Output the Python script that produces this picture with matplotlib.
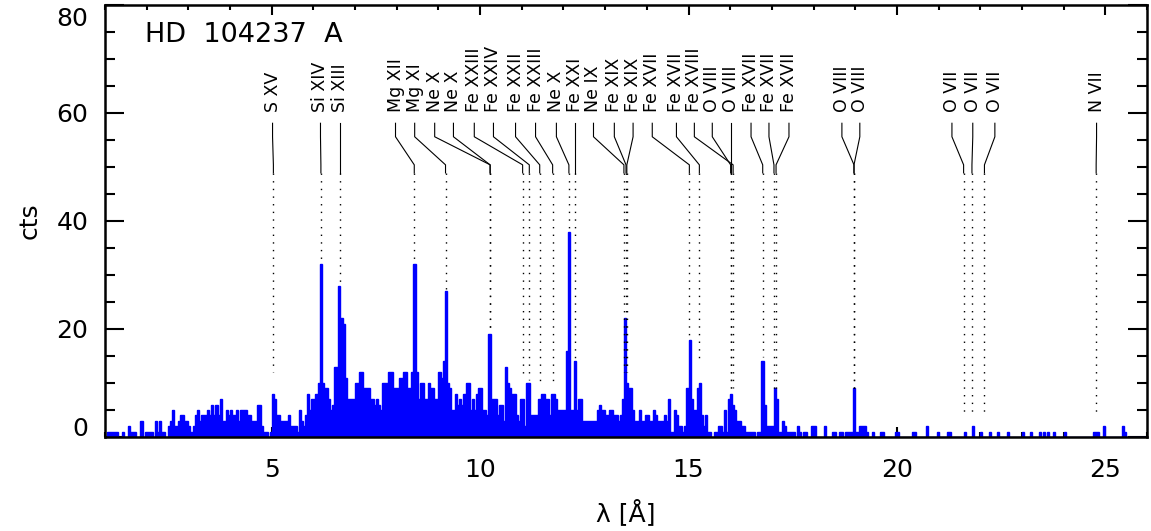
import numpy as np
import matplotlib
matplotlib.use('Agg')
import matplotlib.pyplot as plt
import matplotlib.transforms as mtransforms
from matplotlib.ticker import MultipleLocator

# spectrum: counts in 0.05 A bins starting at 1.0 A (one row = 1 A)
wave_start = 1.0
bin_width = 0.05
counts = [
    0, 1, 1, 1, 1, 1, 0, 0, 1, 0, 0, 2, 1, 1, 1, 0, 0, 3, 0, 1,            # 1-2
    1, 1, 1, 0, 3, 1, 3, 1, 1, 0, 2, 3, 5, 2, 2, 3, 4, 4, 3, 3,            # 2-3
    2, 1, 2, 4, 5, 3, 4, 4, 4, 5, 4, 6, 4, 6, 4, 7, 3, 3, 5, 4,            # 3-4
    5, 4, 4, 5, 3, 5, 5, 5, 4, 4, 3, 3, 3, 6, 6, 2, 1, 1, 0, 1,            # 4-5
    8, 7, 4, 4, 3, 3, 3, 3, 4, 2, 2, 2, 1, 5, 3, 2, 4, 8, 5, 7,            # 5-6
    7, 8, 10, 32, 10, 9, 9, 7, 5, 6, 13, 13, 28, 22, 21, 11, 7, 7, 7, 7,   # 6-7
    10, 10, 12, 12, 9, 9, 9, 7, 7, 6, 7, 6, 5, 10, 10, 10, 12, 12, 9, 9,   # 7-8
    9, 11, 11, 12, 12, 9, 9, 12, 32, 12, 7, 10, 10, 7, 7, 10, 9, 9, 7, 7,  # 8-9
    12, 11, 14, 27, 10, 9, 5, 5, 8, 6, 7, 6, 8, 10, 10, 5, 7, 5, 8, 9,     # 9-10
    9, 5, 5, 4, 19, 7, 7, 7, 4, 6, 6, 3, 13, 10, 9, 8, 8, 4, 3, 7,         # 10-11
    7, 2, 10, 10, 4, 4, 4, 4, 7, 8, 8, 7, 7, 4, 8, 8, 7, 5, 5, 5,          # 11-12
    5, 16, 38, 5, 5, 14, 5, 7, 7, 3, 3, 3, 3, 3, 3, 3, 5, 6, 5, 5,         # 12-13
    4, 4, 5, 5, 4, 4, 3, 4, 7, 22, 10, 9, 9, 5, 3, 3, 5, 3, 3, 4,          # 13-14
    4, 3, 3, 5, 4, 3, 3, 3, 4, 3, 7, 1, 1, 5, 4, 2, 2, 1, 2, 9,            # 14-15
    18, 7, 5, 5, 9, 10, 4, 2, 4, 1, 1, 0, 1, 1, 2, 2, 1, 5, 1, 7,          # 15-16
    8, 6, 5, 3, 3, 2, 2, 1, 1, 1, 1, 1, 0, 1, 1, 14, 6, 2, 2, 2,           # 16-17
    2, 9, 7, 1, 1, 3, 2, 1, 1, 1, 1, 0, 2, 1, 0, 1, 1, 0, 0, 2,            # 17-18
    2, 0, 0, 0, 0, 2, 0, 0, 0, 1, 1, 0, 1, 1, 0, 1, 1, 1, 1, 9,            # 18-19
    1, 1, 2, 2, 2, 1, 0, 0, 1, 0, 0, 0, 1, 1, 0, 0, 0, 0, 0, 1,            # 19-20
    1, 0, 0, 0, 0, 0, 0, 1, 1, 0, 0, 0, 0, 0, 2, 0, 0, 0, 0, 1,            # 20-21
    0, 0, 0, 0, 1, 1, 0, 0, 0, 0, 0, 0, 1, 0, 0, 0, 2, 0, 0, 0,            # 21-22
    1, 0, 0, 0, 1, 0, 0, 0, 1, 0, 0, 0, 0, 1, 0, 0, 0, 0, 0, 0,            # 22-23
    1, 0, 0, 0, 1, 0, 0, 0, 1, 0, 1, 0, 1, 0, 0, 1, 0, 0, 0, 0,            # 23-24
    1, 0, 0, 0, 0, 0, 0, 0, 0, 0, 0, 0, 0, 0, 1, 1, 1, 0, 0, 2,            # 24-25
    0, 0, 0, 0, 0, 0, 0, 0, 2, 1, 0, 0, 0, 0, 0, 0, 0, 0, 0, 0,            # 25-26
]

# line identifications
line_names = ['S XV', 'Si XIV', 'Si XIII', 'Mg XII', 'Mg XI', 'Ne X', 'Ne X',
              'Fe XXIII', 'Fe XXIV', 'Fe XXII', 'Fe XXIII', 'Ne X', 'Fe XXI',
              'Ne IX', 'Fe XIX', 'Fe XIX', 'Fe XVII', 'Fe XVII', 'Fe XVIII',
              'O VIII', 'O VIII', 'Fe XVII', 'Fe XVII', 'Fe XVII',
              'O VIII', 'O VIII', 'O VII', 'O VII', 'O VII', 'N VII']
line_wave = [5.04, 6.18, 6.65, 8.42, 9.17, 10.24, 10.24,
             11.02, 11.18, 11.43, 11.74, 12.13, 12.28,
             13.45, 13.50, 13.52, 15.02, 15.26, 16.07,
             16.01, 16.02, 16.78, 17.05, 17.10,
             18.97, 18.97, 21.60, 21.80, 22.10, 24.78]
line_top = [12, 33, 28.5, 32.5, 27.5, 19.5, 19.5,
            11, 10.5, 10.2, 10, 38.5, 14.6,
            12, 12, 12, 18.5, 14, 9,
            9, 9, 14.8, 8.7, 8.7,
            8.7, 8.7, 4, 4, 4, 4]
# where the labels sit (A)
label_x = [5.02, 6.17, 6.65, 7.97, 8.43, 8.91, 9.36,
           9.86, 10.32, 10.85, 11.33, 11.83, 12.28,
           12.72, 13.22, 13.67, 14.13, 14.71, 15.14,
           15.57, 16.02, 16.50, 16.93, 17.41,
           18.68, 19.11, 21.32, 21.82, 22.35, 24.79]

edges = wave_start + bin_width * np.arange(len(counts) + 1)

fig = plt.figure(figsize=(11.51, 5.31), dpi=100)
ax = fig.add_axes([105 / 1151, 94 / 531, 1042 / 1151, 432 / 531])

ax.stairs(counts, edges, fill=True, color='#0000ff', zorder=2)
ax.stairs(counts, edges, color='#0000ff', lw=1, zorder=2)

for name, w, top, xl in zip(line_names, line_wave, line_top, label_x):
    ax.plot([xl, xl, w, w], [58.1, 55.6, 50.4, 48.9], color='k', lw=0.8, zorder=3)
    ax.plot([w, w], [48.9, top], color='k', lw=1, dashes=(1, 4.5), zorder=3)
    ax.text(xl, 60.2, name, rotation=90, ha='center', va='bottom', fontsize=12.5)

ax.text(0.038, 0.93, 'HD  104237  A', transform=ax.transAxes, fontsize=19.5,
        va='center', ha='left')

ax.set_xlim(1, 26)
ax.set_ylim(0, 80)
ax.xaxis.set_major_locator(MultipleLocator(5))
ax.xaxis.set_minor_locator(MultipleLocator(1))
ax.set_yticks([0, 20, 40, 60, 80])
ax.yaxis.set_minor_locator(MultipleLocator(5))
ax.tick_params(axis='both', which='both', direction='in', top=True, right=True,
               width=1.5, labelsize=18)
ax.tick_params(axis='x', which='major', length=7, pad=15)
ax.tick_params(axis='x', which='minor', length=3.5)
ax.tick_params(axis='y', which='major', length=14, pad=12)
ax.tick_params(axis='y', which='minor', length=7)
for s in ax.spines.values():
    s.set_linewidth(1.8)

# end labels sit inside the axis range, as in the original
ylabels = ax.get_yticklabels()
shift_up = mtransforms.ScaledTranslation(0, 0.10, fig.dpi_scale_trans)
shift_dn = mtransforms.ScaledTranslation(0, -0.12, fig.dpi_scale_trans)
ylabels[0].set_transform(ylabels[0].get_transform() + shift_up)
ylabels[-1].set_transform(ylabels[-1].get_transform() + shift_dn)

ax.set_xlabel('λ [Å]', fontsize=18)
ax.set_ylabel('cts', fontsize=18)
ax.xaxis.label.set_va('center')
ax.yaxis.label.set_va('center')
ax.xaxis.set_label_coords(0.5, -(513 - 437) / 432)
ax.yaxis.set_label_coords((30 - 105) / 1042, 0.5)

plt.savefig('out.png', dpi=100)
plt.close()
